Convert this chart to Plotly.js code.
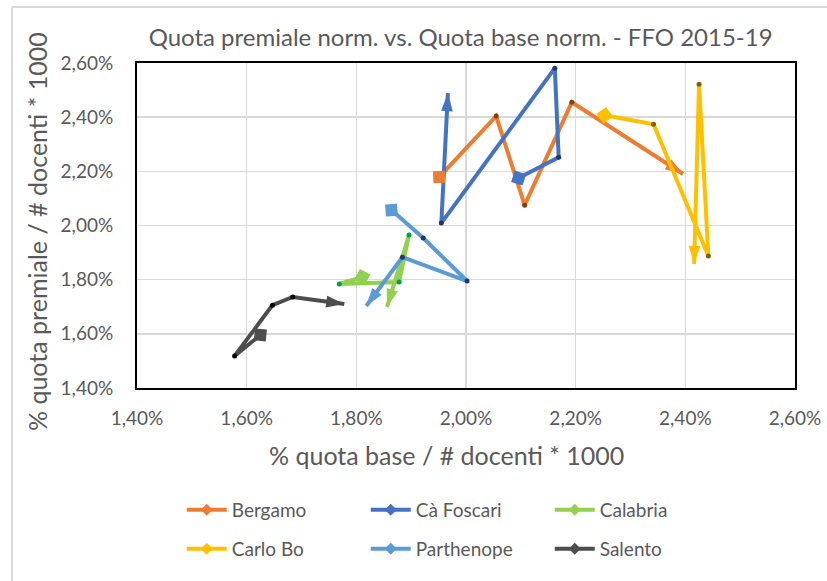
<!DOCTYPE html>
<html>
<head>
<meta charset="utf-8">
<script src="https://cdn.plot.ly/plotly-3.0.1.min.js"></script>
<style>html,body{margin:0;padding:0;background:#fff;}#chart{width:827px;height:581px;}</style>
</head>
<body>
<div id="chart"></div>
<script>
// Years 2015..2019 (5 points per university), values in percent
const names = ['Bergamo', 'Cà Foscari', 'Calabria', 'Carlo Bo', 'Parthenope', 'Salento'];
const colors = ['#ED7D31', '#4472C4', '#92D050', '#FFC000', '#5B9BD5', '#4D4D4D'];
const dotColors = ['#7F3F10', '#1F3864', '#00A040', '#7F6000', '#1F3864', '#000000'];

const bergamoX   = [1.951, 2.055, 2.107, 2.193, 2.396];
const bergamoY   = [2.179, 2.404, 2.075, 2.455, 2.190];
const foscariX   = [2.096, 2.169, 2.162, 1.955, 1.967];
const foscariY   = [2.175, 2.252, 2.581, 2.009, 2.489];
const calabriaX  = [1.811, 1.769, 1.878, 1.896, 1.856];
const calabriaY  = [1.810, 1.784, 1.791, 1.965, 1.699];
const carloBoX   = [2.253, 2.342, 2.442, 2.425, 2.416];
const carloBoY   = [2.407, 2.374, 1.887, 2.522, 1.858];
const parthX     = [1.864, 1.922, 2.002, 1.884, 1.818];
const parthY     = [2.057, 1.954, 1.795, 1.883, 1.703];
const salentoX   = [1.625, 1.578, 1.647, 1.684, 1.778];
const salentoY   = [1.596, 1.518, 1.706, 1.736, 1.710];

const xs = [bergamoX, foscariX, calabriaX, carloBoX, parthX, salentoX];
const ys = [bergamoY, foscariY, calabriaY, carloBoY, parthY, salentoY];

const traces = [];
names.forEach((n, i) => {
  const len = xs[i].length;
  const symbols = xs[i].map((_, k) => k === 0 ? 'diamond' : (k === len - 1 ? 'arrow' : 'circle'));
  const sizes = xs[i].map((_, k) => k === 0 ? 12 : (k === len - 1 ? 19 : 5));
  const mcol = xs[i].map((_, k) => (k === 0 || k === len - 1) ? colors[i] : dotColors[i]);
  traces.push({
    type: 'scatter', mode: 'lines+markers', name: n,
    x: xs[i], y: ys[i],
    line: {color: colors[i], width: 4},
    marker: {symbol: symbols, size: sizes, color: mcol, opacity: 1, angleref: 'previous', line: {width: 0}},
    legend: i < 3 ? 'legend' : 'legend2'
  });
});
// start-of-path diamond markers, oriented along the first segment
names.forEach((n, i) => {
  traces.push({
    type: 'scatter', mode: 'markers', showlegend: false,
    x: [xs[i][1], xs[i][0]], y: [ys[i][1], ys[i][0]],
    marker: {symbol: ['circle', 'diamond'], size: [0, 13], color: colors[i], opacity: 1, angleref: 'previous', line: {width: 0}}
  });
});

const txt = '#595959';
const font = 'Lato, "Open Sans", sans-serif';
const legendCommon = {
  orientation: 'h', xref: 'paper', yref: 'paper', xanchor: 'left', yanchor: 'middle',
  font: {family: font, size: 19, color: txt}, entrywidth: 129, entrywidthmode: 'pixels',
  itemwidth: 40, bgcolor: 'rgba(0,0,0,0)'
};

const layout = {
  width: 827, height: 581,
  margin: {l: 137, r: 32, t: 63, b: 193},
  paper_bgcolor: '#fff', plot_bgcolor: '#fff',
  separators: ',.',
  showlegend: true,
  title: {text: 'Quota premiale norm. vs. Quota base norm. - FFO 2015-19',
          font: {family: font, size: 24, color: txt}, x: 0.557, xanchor: 'center', y: 0.935, yanchor: 'middle'},
  xaxis: {
    range: [1.40, 2.60], dtick: 0.2, tick0: 1.40, tickformat: '.2f', ticksuffix: '%',
    showgrid: true, gridcolor: '#d9d9d9', gridwidth: 1.5, zeroline: false,
    showline: true, mirror: true, linecolor: '#000', linewidth: 2,
    ticks: '', ticklabelstandoff: 12,
    tickfont: {family: font, size: 19, color: txt}
  },
  yaxis: {
    range: [1.40, 2.60], dtick: 0.2, tick0: 1.40, tickformat: '.2f', ticksuffix: '%',
    showgrid: true, gridcolor: '#d9d9d9', gridwidth: 1.5, zeroline: false,
    showline: true, mirror: true, linecolor: '#000', linewidth: 2,
    ticks: '', ticklabelstandoff: 18,
    tickfont: {family: font, size: 19, color: txt}
  },
  annotations: [
    {text: '% quota base / # docenti * 1000', xref: 'paper', yref: 'paper', x: 0.471, y: -0.206,
     xanchor: 'center', yanchor: 'middle', showarrow: false, font: {family: font, size: 25, color: txt}},
    {text: '% quota premiale / # docenti * 1000', xref: 'paper', yref: 'paper', x: -0.152, y: 0.483,
     xanchor: 'center', yanchor: 'middle', textangle: -90, showarrow: false, font: {family: font, size: 25, color: txt}}
  ],
  legend: Object.assign({}, legendCommon, {x: 0.068, y: -0.375}),
  legend2: Object.assign({}, legendCommon, {x: 0.068, y: -0.495}),
  shapes: [
    {type: 'line', xref: 'paper', yref: 'paper', x0: -0.19, x1: 1.06, y0: 1.172, y1: 1.172, line: {color: '#d9d9d9', width: 2}},
    {type: 'line', xref: 'paper', yref: 'paper', x0: -0.19, x1: -0.19, y0: 1.172, y1: -0.6, line: {color: '#d9d9d9', width: 2}}
  ]
};

Plotly.newPlot('chart', traces, layout, {displayModeBar: false, staticPlot: true});
</script>
</body>
</html>
